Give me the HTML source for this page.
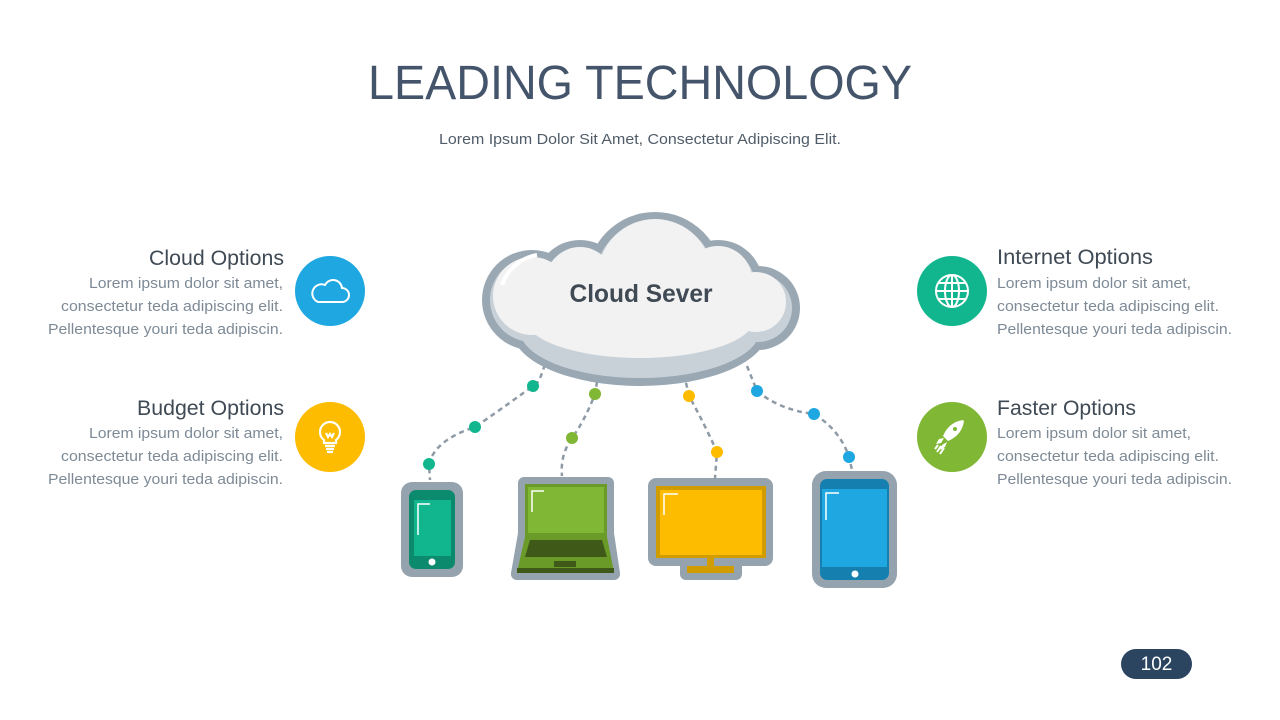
<!DOCTYPE html>
<html><head><meta charset="utf-8"><style>
html,body{margin:0;padding:0;background:#fff;}
svg{display:block;}
</style></head><body>
<svg width="1280" height="720" viewBox="0 0 1280 720" xmlns="http://www.w3.org/2000/svg" font-family="Liberation Sans, sans-serif">
<rect width="1280" height="720" fill="#fff"/>
<text x="640" y="99" text-anchor="middle" font-size="48" fill="#44546a" textLength="544" lengthAdjust="spacingAndGlyphs">LEADING TECHNOLOGY</text>
<text x="640" y="144" text-anchor="middle" font-size="15" fill="#505c68" textLength="402" lengthAdjust="spacingAndGlyphs">Lorem Ipsum Dolor Sit Amet, Consectetur Adipiscing Elit.</text>

<!-- left texts -->
<g text-anchor="end" fill="#7d8a96" font-size="15">
<text x="284" y="265" font-size="21" fill="#3f4a55" textLength="135" lengthAdjust="spacingAndGlyphs">Cloud Options</text>
<text x="283" y="288" textLength="194" lengthAdjust="spacingAndGlyphs">Lorem ipsum dolor sit amet,</text>
<text x="283" y="311" textLength="222" lengthAdjust="spacingAndGlyphs">consectetur teda adipiscing elit.</text>
<text x="283" y="334" textLength="235" lengthAdjust="spacingAndGlyphs">Pellentesque youri teda adipiscin.</text>
<text x="284" y="415" font-size="21" fill="#3f4a55" textLength="147" lengthAdjust="spacingAndGlyphs">Budget Options</text>
<text x="283" y="438" textLength="194" lengthAdjust="spacingAndGlyphs">Lorem ipsum dolor sit amet,</text>
<text x="283" y="461" textLength="222" lengthAdjust="spacingAndGlyphs">consectetur teda adipiscing elit.</text>
<text x="283" y="484" textLength="235" lengthAdjust="spacingAndGlyphs">Pellentesque youri teda adipiscin.</text>
</g>
<g fill="#7d8a96" font-size="15">
<text x="997" y="264" font-size="21" fill="#3f4a55" textLength="156" lengthAdjust="spacingAndGlyphs">Internet Options</text>
<text x="997" y="288" textLength="194" lengthAdjust="spacingAndGlyphs">Lorem ipsum dolor sit amet,</text>
<text x="997" y="311" textLength="222" lengthAdjust="spacingAndGlyphs">consectetur teda adipiscing elit.</text>
<text x="997" y="334" textLength="235" lengthAdjust="spacingAndGlyphs">Pellentesque youri teda adipiscin.</text>
<text x="997" y="415" font-size="21" fill="#3f4a55" textLength="139" lengthAdjust="spacingAndGlyphs">Faster Options</text>
<text x="997" y="438" textLength="194" lengthAdjust="spacingAndGlyphs">Lorem ipsum dolor sit amet,</text>
<text x="997" y="461" textLength="222" lengthAdjust="spacingAndGlyphs">consectetur teda adipiscing elit.</text>
<text x="997" y="484" textLength="235" lengthAdjust="spacingAndGlyphs">Pellentesque youri teda adipiscin.</text>
</g>

<!-- icon circles -->
<circle cx="330" cy="291" r="35" fill="#1ea7e0"/>
<path d="M318 302 h24 a7 7 0 0 0 0-14 a9 9 0 0 0-17-3 a7 7 0 0 0-7 17z" fill="none" stroke="#fff" stroke-width="2"/>
<circle cx="330" cy="437" r="35" fill="#fdbc00"/>
<g fill="none" stroke="#fff" stroke-width="2.2">
<path d="M324 443 v-3 a10 10 0 1 1 12 0 v3 z"/>
<path d="M325 446 h10 M326 449 h8 M327 452 h6"/>
<path d="M326 433 l2 4 l2-3 l2 3 l2-4"/>
</g>
<circle cx="952" cy="291" r="35" fill="#12b68e"/>
<g fill="none" stroke="#fff" stroke-width="2">
<circle cx="952" cy="291" r="16"/>
<ellipse cx="952" cy="291" rx="7" ry="16"/>
<path d="M952 275 v32 M936 291 h32 M939 283 h26 M939 299 h26"/>
</g>
<circle cx="952" cy="437" r="35" fill="#80b735"/>
<path d="M963 420 q-14 2 -20 16 l5 5 q14 -6 16 -20z" fill="#fff"/>
<path d="M944 438 l-5 1 -3 5 5-1z M947 442 l-2 5 -5 3 2-5z" fill="#fff"/>
<path d="M941 446 l-4 6 M944 448 l-4 6 M938 445 l-3 4" stroke="#fff" stroke-width="2"/>
<circle cx="955" cy="429" r="2" fill="#80b735"/>

<!-- connectors -->
<g fill="none" stroke="#8e9aa6" stroke-width="2.5" stroke-dasharray="5 4">
<path d="M547 356 Q540 385 533 386 Q500 410 475 427 Q435 440 429 464 L430 480"/>
<path d="M600 364 L595 394 Q585 420 572 438 Q560 455 562 476"/>
<path d="M684 374 L689 396 Q705 425 717 452 L715 478"/>
<path d="M747 366 L757 391 Q780 410 814 414 Q840 430 849 457 L852 470"/>
</g>
<g>
<circle cx="533" cy="386" r="6" fill="#12b68e"/><circle cx="475" cy="427" r="6" fill="#12b68e"/><circle cx="429" cy="464" r="6" fill="#12b68e"/>
<circle cx="595" cy="394" r="6" fill="#80b735"/><circle cx="572" cy="438" r="6" fill="#80b735"/>
<circle cx="689" cy="396" r="6" fill="#fdbc00"/><circle cx="717" cy="452" r="6" fill="#fdbc00"/>
<circle cx="757" cy="391" r="6" fill="#1ea7e0"/><circle cx="814" cy="414" r="6" fill="#1ea7e0"/><circle cx="849" cy="457" r="6" fill="#1ea7e0"/>
</g>

<!-- cloud -->
<g fill="#9aa8b4">
<circle cx="532" cy="300" r="50"/>
<circle cx="580" cy="285" r="45"/>
<circle cx="655" cy="280" r="68"/>
<circle cx="718" cy="285" r="45"/>
<circle cx="758" cy="308" r="42"/>
<ellipse cx="640" cy="330" rx="128" ry="56"/>
</g>
<g fill="#c9d1d8">
<circle cx="532" cy="300" r="42"/>
<circle cx="580" cy="285" r="37"/>
<circle cx="655" cy="280" r="60"/>
<circle cx="718" cy="285" r="37"/>
<circle cx="758" cy="308" r="34"/>
<ellipse cx="640" cy="330" rx="120" ry="48"/>
</g>
<g fill="#f2f2f2">
<circle cx="532" cy="296" r="39"/>
<circle cx="580" cy="281" r="34"/>
<circle cx="655" cy="276" r="57"/>
<circle cx="718" cy="280" r="34"/>
<circle cx="756" cy="302" r="30"/>
<ellipse cx="640" cy="318" rx="115" ry="40"/>
</g>
<path d="M502 285 a45 45 0 0 1 35-30" fill="none" stroke="#fff" stroke-width="4"/>
<text x="641" y="302" text-anchor="middle" font-size="25" font-weight="bold" fill="#3f4a55" textLength="143" lengthAdjust="spacingAndGlyphs">Cloud Sever</text>

<!-- phone -->
<rect x="401" y="482" width="62" height="95" rx="11" fill="#95a3ae"/>
<rect x="409" y="490" width="46" height="79" rx="7" fill="#0c8a6d"/>
<rect x="414" y="500" width="37" height="56" fill="#12b68e"/>
<path d="M418 535 v-31 h12" fill="none" stroke="#fff" stroke-width="1.5"/>
<circle cx="432" cy="562" r="3.5" fill="#fff"/>

<!-- laptop -->
<path d="M524 477 h84 a6 6 0 0 1 6 6 v50 l6 40 a6 6 0 0 1-6 7 h-97 a6 6 0 0 1-6-7 l7-40 v-50 a6 6 0 0 1 6-6z" fill="#95a3ae"/>
<rect x="525" y="484" width="82" height="53" fill="#6a9a28"/>
<rect x="528" y="487" width="76" height="46" fill="#80b735"/>
<path d="M532 512 v-21 h12" fill="none" stroke="#fff" stroke-width="1.5"/>
<path d="M525 537 h82 l7 35 h-97z" fill="#6a9a28"/>
<path d="M530 540 h72 l5 17 h-82z" fill="#3f5a18"/>
<rect x="554" y="561" width="22" height="6" fill="#3f5a18"/>
<rect x="517" y="568" width="97" height="5" fill="#3f5a18"/>

<!-- monitor -->
<rect x="648" y="478" width="125" height="88" rx="8" fill="#95a3ae"/>
<rect x="680" y="558" width="62" height="22" rx="6" fill="#95a3ae"/>
<rect x="656" y="486" width="110" height="72" fill="#d19c00"/>
<rect x="660" y="490" width="102" height="65" fill="#fdbc00"/>
<path d="M664 515 v-21 h14" fill="none" stroke="#fff" stroke-width="1.5"/>
<rect x="707" y="558" width="7" height="9" fill="#d19c00"/>
<rect x="687" y="566" width="47" height="7" fill="#d19c00"/>

<!-- tablet -->
<rect x="812" y="471" width="85" height="117" rx="14" fill="#95a3ae"/>
<rect x="820" y="479" width="69" height="101" rx="7" fill="#1580b0"/>
<rect x="822" y="489" width="65" height="78" fill="#1ea7e0"/>
<path d="M826 520 v-27 h13" fill="none" stroke="#fff" stroke-width="1.5"/>
<circle cx="855" cy="574" r="3.5" fill="#fff"/>

<!-- page number -->
<rect x="1121" y="649" width="71" height="30" rx="15" fill="#2b4460"/>
<text x="1156.5" y="670" text-anchor="middle" font-size="19" fill="#fff">102</text>
</svg>
</body></html>
